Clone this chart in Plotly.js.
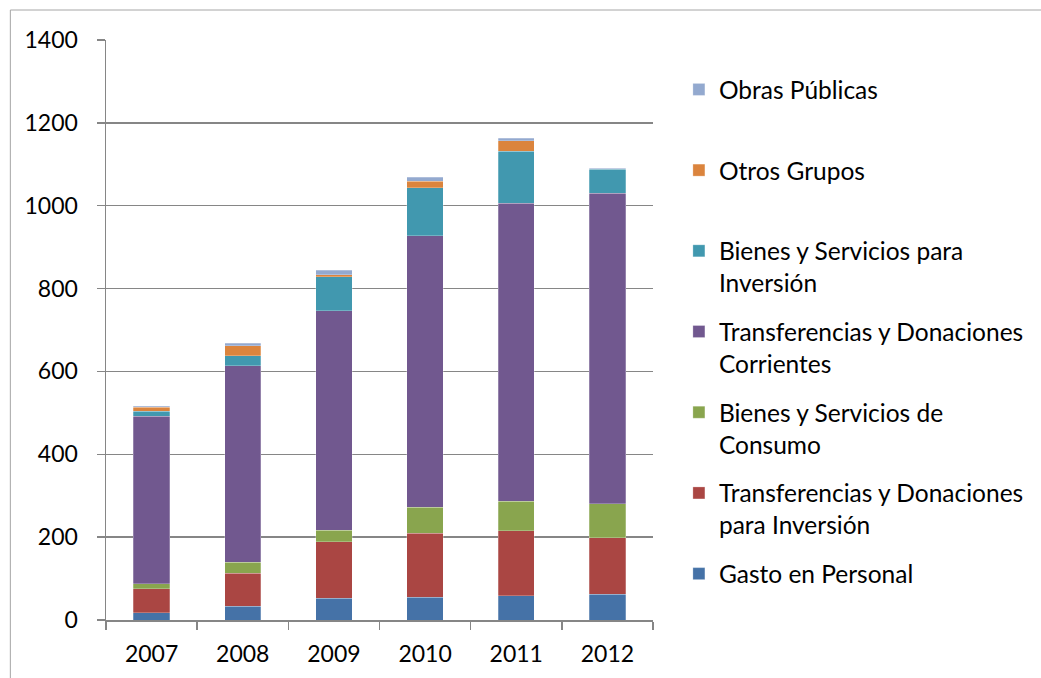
<!DOCTYPE html>
<html>
<head>
<meta charset="utf-8">
<script src="https://cdn.plot.ly/plotly-3.0.1.min.js"></script>
<style>
html,body{margin:0;padding:0;background:#fff;}
#chart{width:1041px;height:678px;}
</style>
</head>
<body>
<div id="chart"></div>
<script>
// Categories
const years = ['2007', '2008', '2009', '2010', '2011', '2012'];

// Series (stack order bottom -> top)
const gastoPersonal = [18, 33, 52, 55, 59, 62];
const transfInversion = [57, 80, 137, 155, 156, 136];
const bienesConsumo = [12, 27, 28, 62, 72, 83];
const transfCorrientes = [405, 474, 529, 656, 719, 749];
const bienesInversion = [12, 24, 82, 115, 125, 58];
const otrosGrupos = [10, 24, 5, 16, 26, 1];
const obrasPublicas = [2, 6, 11, 10, 6, 2];

// Legend labels
const names = [
  'Gasto en Personal',
  'Transferencias y Donaciones<br>para Inversión',
  'Bienes y Servicios de<br>Consumo',
  'Transferencias y Donaciones<br>Corrientes',
  'Bienes y Servicios para<br>Inversión',
  'Otros Grupos<br>\u00a0',
  'Obras Públicas<br>\u00a0'
];
const seriesValues = [gastoPersonal, transfInversion, bienesConsumo, transfCorrientes, bienesInversion, otrosGrupos, obrasPublicas];
const colors = ['#4572A7', '#AA4643', '#89A54E', '#71588F', '#4198AF', '#DB843D', '#93A9CF'];

const FONT = 'Lato, "Open Sans", sans-serif';

const data = seriesValues.map((vals, i) => ({
  type: 'bar',
  x: years,
  y: vals,
  name: names[i],
  legendgroup: 'g' + i,
  legendrank: 1000 - i,
  marker: {color: colors[i], line: {color: 'rgba(255,255,255,0.5)', width: 0.5}},
  hoverinfo: 'skip'
}));

const W = 1041, H = 678;
const L = 106, R = 655, T = 40, B = 620;
const pw = R - L, ph = B - T;
const px = x => (x - L) / pw;
const py = y => (B - y) / ph;

const layout = {
  width: W, height: H,
  margin: {l: L, r: W - R, t: T, b: H - B, pad: 0},
  paper_bgcolor: '#ffffff',
  plot_bgcolor: '#ffffff',
  barmode: 'stack',
  bargap: 0.6,
  font: {family: FONT, size: 23, color: '#000000'},
  showlegend: true,
  legend: {
    x: px(681), y: py(67), xanchor: 'left', yanchor: 'top',
    traceorder: 'grouped',
    tracegroupgap: 14,
    valign: 'top',
    font: {family: FONT, size: 24.5, color: '#000000'},
    bgcolor: 'rgba(0,0,0,0)'
  },
  xaxis: {
    type: 'category',
    tickson: 'boundaries',
    ticks: 'outside', ticklen: 8, tickwidth: 1.5, tickcolor: '#868686',
    showline: true, linecolor: '#868686', linewidth: 1.5,
    showgrid: false, zeroline: false,
    ticklabelstandoff: 13,
    tickfont: {family: FONT, size: 23, color: '#000000'}
  },
  yaxis: {
    range: [0, 1400], dtick: 200,
    ticks: 'outside', ticklen: 8, tickwidth: 1.5, tickcolor: '#868686',
    showline: true, linecolor: '#868686', linewidth: 1.5,
    showgrid: true, gridcolor: '#868686', gridwidth: 1.5,
    zeroline: false,
    ticklabelstandoff: 14,
    tickfont: {family: FONT, size: 23, color: '#000000'}
  },
  shapes: [
    {type: 'line', xref: 'paper', yref: 'paper', x0: px(10), x1: px(10), y0: py(10), y1: py(H + 5), line: {color: '#a6a6a6', width: 1}},
    {type: 'line', xref: 'paper', yref: 'paper', x0: px(10), x1: px(W + 5), y0: py(10), y1: py(10), line: {color: '#a6a6a6', width: 1}}
  ]
};

Plotly.newPlot('chart', data, layout, {displayModeBar: false, staticPlot: true});
</script>
</body>
</html>
